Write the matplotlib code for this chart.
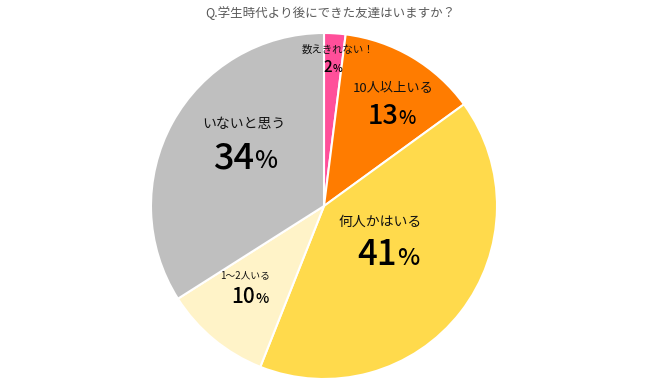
import matplotlib
matplotlib.use("Agg")
import matplotlib.pyplot as plt
from matplotlib.offsetbox import TextArea, HPacker, AnnotationBbox

plt.rcParams['font.family'] = ['Noto Sans CJK JP', 'DejaVu Sans']

title = 'Q.学生時代より後にできた友達はいますか？'
labels = ['数えきれない！', '10人以上いる', '何人かはいる', '1〜2人いる', 'いないと思う']
values = [2, 13, 41, 10, 34]
colors = ['#FF4F9A', '#FF7C00', '#FFDA4C', '#FFF3C8', '#BFBFBF']

# label / number positions (data coords, radius = 1) and font sizes
label_pos = [(0.081, 0.902), (0.399, 0.682), (0.324, -0.092), (-0.457, -0.399), (-0.462, 0.474)]
num_pos = [(0.052, 0.803), (0.393, 0.520), (0.370, -0.283), (-0.428, -0.526), (-0.457, 0.277)]
label_size = [7.5, 9.5, 10, 7, 10]
num_size = [11, 19.5, 25, 15, 26]

W, H = 647, 388
fig = plt.figure(figsize=(W / 100, H / 100), dpi=100)
cx, cy, r = 324, 206, 173
ax = fig.add_axes([(cx - r) / W, (H - cy - r) / H, 2 * r / W, 2 * r / H])

ax.pie(values, colors=colors, startangle=90, counterclock=False,
       wedgeprops=dict(edgecolor='white', linewidth=1.5))
ax.set_xlim(-1, 1)
ax.set_ylim(-1, 1)
ax.set_aspect('equal')
ax.axis('off')

for i in range(len(values)):
    ax.text(label_pos[i][0], label_pos[i][1], labels[i], fontsize=label_size[i],
            ha='center', va='center', color='#111111')
    num = TextArea(str(values[i]), textprops=dict(fontsize=num_size[i], color='black',
                                                  fontweight='medium'))
    pct = TextArea('%', textprops=dict(fontsize=num_size[i] * 0.68, color='black',
                                       fontweight='medium'))
    box = HPacker(children=[num, pct], align='baseline', pad=0, sep=0)
    ab = AnnotationBbox(box, num_pos[i], frameon=False, box_alignment=(0.5, 0.5))
    ax.add_artist(ab)

fig.text(330 / W, 1 - 13 / H, title, fontsize=9, color='#595959', ha='center', va='center')

fig.savefig('out.png', dpi=100)
